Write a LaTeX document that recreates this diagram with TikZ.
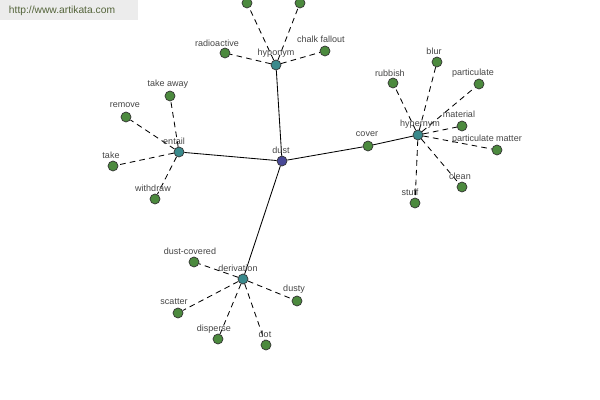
\documentclass[tikz,border=0pt]{standalone}
\usepackage{fontspec}
\setmainfont{Liberation Sans}
\usepackage{tikz}

\definecolor{leafgreen}{RGB}{76,138,62}
\definecolor{relteal}{RGB}{58,138,140}
\definecolor{wordblue}{RGB}{72,72,150}
\definecolor{txtgray}{RGB}{68,68,68}
\definecolor{markgray}{RGB}{236,236,236}
\definecolor{markolive}{RGB}{84,100,58}

\begin{document}
\begin{tikzpicture}[x=0.025cm,y=-0.025cm,
  dot/.style={circle,draw=black!80,line width=0.5pt,minimum size=7.1pt,inner sep=0pt},
  leaf/.style={dot,fill=leafgreen},
  rel/.style={dot,fill=relteal},
  word/.style={dot,fill=wordblue},
  lbl/.style={text=txtgray,inner sep=0pt,font=\fontsize{6.4}{7}\selectfont},
  solidedge/.style={line width=0.6pt},
  dashedge/.style={line width=0.6pt,dash pattern=on 4pt off 3pt}]
\useasboundingbox (0,0) rectangle (600,400);
\fill[markgray] (0,0) rectangle (138,20);
\node[text=markolive,font=\fontsize{7.3}{8}\selectfont] (mark) at (62,11) {http://www.artikata.com};

\node[word] (dust) at (282,161) {};
\node[rel] (hypo) at (276,65) {};
\node[rel] (entail) at (179,152) {};
\node[rel] (hyper) at (418,135) {};
\node[rel] (deriv) at (243,279) {};
\node[leaf] (cover) at (368,146) {};
\node[leaf] (top1) at (247,3) {};
\node[leaf] (top2) at (300,3) {};

\foreach \n/\x/\y in {
  radio/225/53, chalk/325/51, takeaway/170/96, remove/126/117,
  take/113/166, withdraw/155/199, blur/437/62, rubbish/393/83,
  partic/479/84, material/462/126, pmatter/497/150, clean/462/187,
  stuff/415/203, dustcov/194/262, dusty/297/301, scatter/178/313,
  disperse/218/339, dotw/266/345}
  \node[leaf] (\n) at (\x,\y) {};

\foreach \a/\b in {dust/hypo,dust/entail,dust/cover,cover/hyper,dust/deriv}
  \draw[solidedge] (\a) -- (\b);
\foreach \a/\b in {hypo/top1,hypo/top2,hypo/radio,hypo/chalk,
  entail/takeaway,entail/remove,entail/take,entail/withdraw,
  hyper/blur,hyper/rubbish,hyper/partic,hyper/material,hyper/pmatter,hyper/clean,hyper/stuff,
  deriv/dustcov,deriv/dusty,deriv/scatter,deriv/disperse,deriv/dotw}
  \draw[dashedge] (\a) -- (\b);

\foreach \n/\lx/\ly/\t in {
  dust/281/150/dust, hypo/276/53/hyponym, entail/174/141/entail,
  hyper/420/124/hypernym, deriv/238/268/derivation, cover/367/134/cover,
  radio/217/43/radioactive, chalk/321/39/chalk fallout,
  takeaway/168/84/take away, remove/125/105/remove,
  take/111/155/take, withdraw/153/188/withdraw,
  blur/434/51/blur, rubbish/390/73/rubbish,
  partic/473/73/particulate, material/459/114/material,
  pmatter/487/139/particulate matter, clean/460/176/clean,
  stuff/410/192/stuff, dustcov/190/251/dust-covered,
  dusty/294/289/dusty, scatter/174/302/scatter,
  disperse/214/329/disperse, dotw/265/334/dot}
  \node[lbl] (\n-l) at (\lx,\ly) {\t};
\end{tikzpicture}
\end{document}
